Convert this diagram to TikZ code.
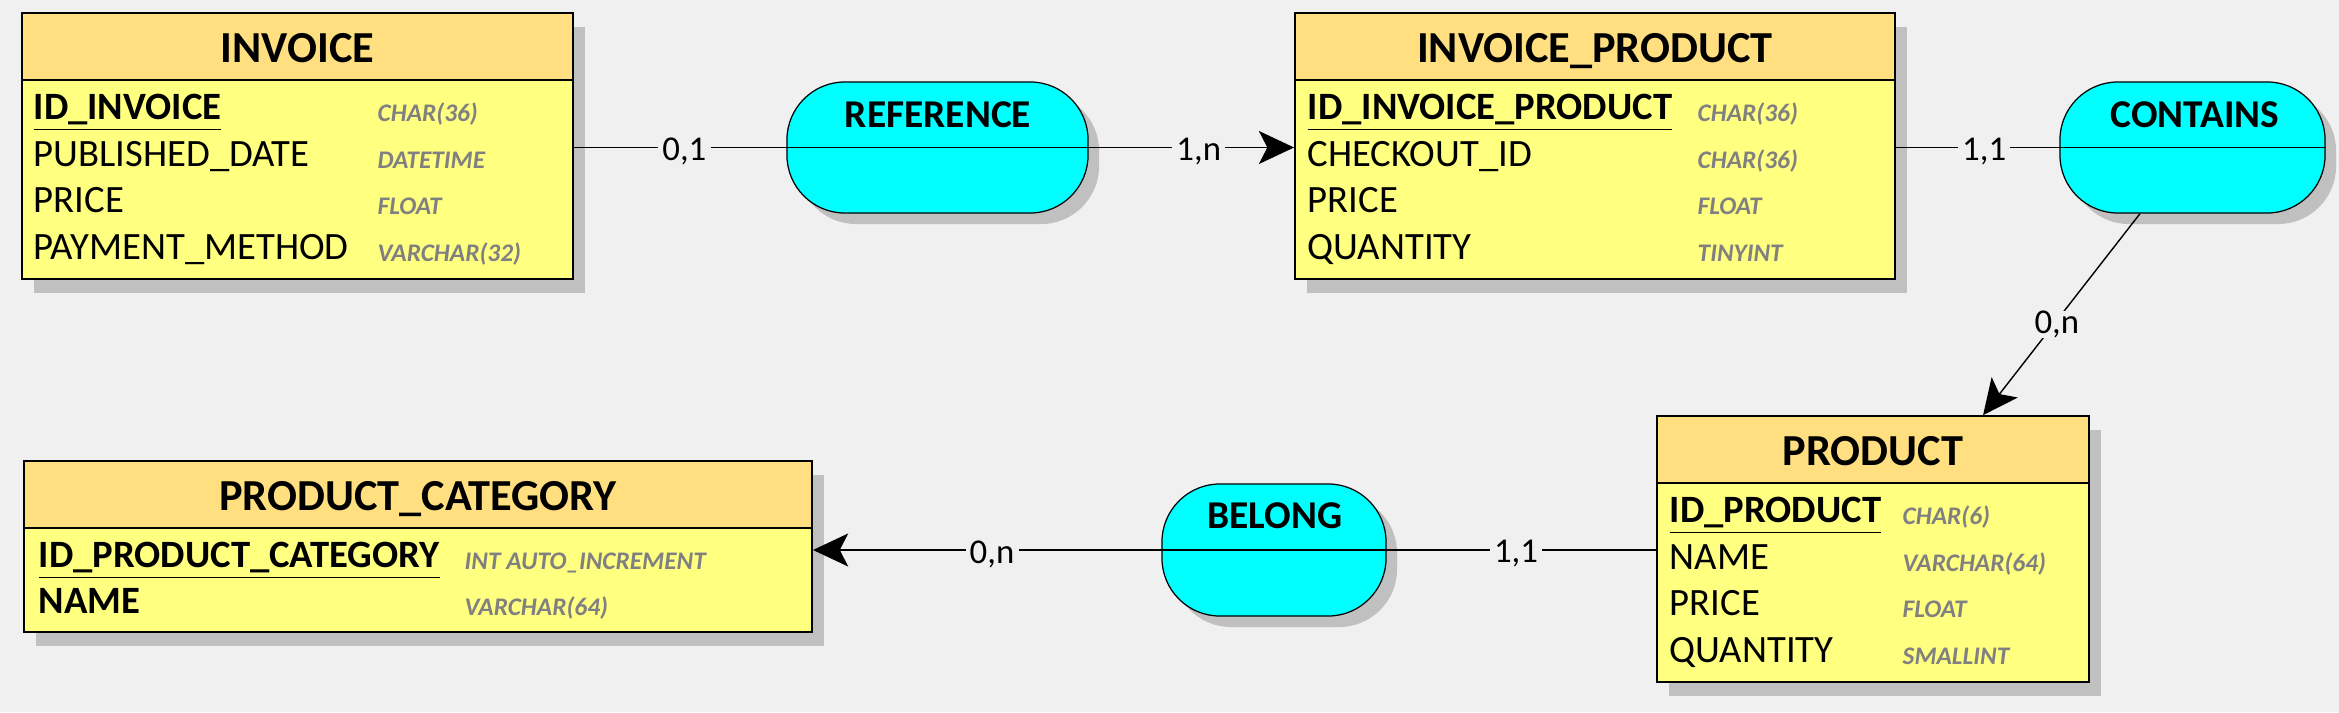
\documentclass[tikz,border=0pt]{standalone}
\usepackage{fontspec}
\setmainfont{Carlito}
\usetikzlibrary{positioning, arrows.meta, shadows}
\definecolor{canvasGray}{HTML}{F0F0F0}
\definecolor{headOrange}{HTML}{FFDF80}
\definecolor{bodyYellow}{HTML}{FFFF80}
\definecolor{assocCyan}{HTML}{00FFFF}
\definecolor{shadowGray}{HTML}{C0C0C0}
\definecolor{typeGray}{HTML}{808080}

\tikzset{
  entitybox/.style={draw, line width=0.45pt, fill=bodyYellow, inner sep=0pt,
    drop shadow={shadow xshift=0.12cm, shadow yshift=-0.14cm, fill=shadowGray, opacity=1}},
  entityhead/.style={draw, line width=0.45pt, fill=headOrange, inner sep=0pt,
    minimum height=0.67cm, text height=0.39cm, text depth=0.07cm,
    font=\fontsize{12.6}{15}\selectfont\bfseries},
  attr/.style={anchor=base west, inner sep=0pt, font=\fontsize{11}{13}\selectfont},
  attrkey/.style={attr, font=\fontsize{11}{13}\selectfont\bfseries},
  attrtype/.style={anchor=base west, inner sep=0pt, text=typeGray,
    font=\fontsize{7.2}{9}\selectfont\bfseries\itshape},
  assoc/.style={draw, line width=0.35pt, fill=assocCyan, rounded corners=0.58cm, inner sep=0pt,
    drop shadow={shadow xshift=0.11cm, shadow yshift=-0.11cm, fill=shadowGray, opacity=1}},
  assoctitle/.style={anchor=base, inner sep=0pt, font=\fontsize{11.2}{13}\selectfont\bfseries},
  conn/.style={line width=0.4pt},
  toentity/.style={-{Stealth[length=10pt, width=9.4pt, inset=2.4pt]}},
  card/.style={fill=canvasGray, inner xsep=1.2pt, inner ysep=0pt, yshift=-0.4mm,
    font=\fontsize{9.9}{12}\selectfont}
}

\begin{document}
\begin{tikzpicture}[x=0.01cm, y=-0.01cm]
  \fill[canvasGray] (0,0) rectangle (2339,712);

  % INVOICE
  \node[entitybox, minimum width=5.51cm, minimum height=2.66cm] (invoice) at (297.5,146) {};
  \node[entityhead, minimum width=5.51cm, anchor=north] (invoiceh) at (invoice.north) {INVOICE};
  \node[attrkey] (inv1) at (33,119) {\underline{ID\_INVOICE}};
  \node[attr] (inv2) at (33,166) {PUBLISHED\_DATE};
  \node[attr] (inv3) at (33,212) {PRICE};
  \node[attr] (inv4) at (33,259) {PAYMENT\_METHOD};
  \node[attrtype] (inv1t) at (377,121) {CHAR(36)};
  \node[attrtype] (inv2t) at (377,168) {DATETIME};
  \node[attrtype] (inv3t) at (377,214) {FLOAT};
  \node[attrtype] (inv4t) at (377,261) {VARCHAR(32)};

  % INVOICE_PRODUCT
  \node[entitybox, minimum width=6cm, minimum height=2.66cm] (invprod) at (1595,146) {};
  \node[entityhead, minimum width=6cm, anchor=north] (invprodh) at (invprod.north) {INVOICE\_PRODUCT};
  \node[attrkey] (ip1) at (1307,119) {\underline{ID\_INVOICE\_PRODUCT}};
  \node[attr] (ip2) at (1307,166) {CHECKOUT\_ID};
  \node[attr] (ip3) at (1307,212) {PRICE};
  \node[attr] (ip4) at (1307,259) {QUANTITY};
  \node[attrtype] (ip1t) at (1697,121) {CHAR(36)};
  \node[attrtype] (ip2t) at (1697,168) {CHAR(36)};
  \node[attrtype] (ip3t) at (1697,214) {FLOAT};
  \node[attrtype] (ip4t) at (1697,261) {TINYINT};

  % PRODUCT
  \node[entitybox, minimum width=4.32cm, minimum height=2.66cm] (product) at (1873,549) {};
  \node[entityhead, minimum width=4.32cm, anchor=north] (producth) at (product.north) {PRODUCT};
  \node[attrkey] (pr1) at (1669,522) {\underline{ID\_PRODUCT}};
  \node[attr] (pr2) at (1669,569) {NAME};
  \node[attr] (pr3) at (1669,615) {PRICE};
  \node[attr] (pr4) at (1669,662) {QUANTITY};
  \node[attrtype] (pr1t) at (1902,524) {CHAR(6)};
  \node[attrtype] (pr2t) at (1902,571) {VARCHAR(64)};
  \node[attrtype] (pr3t) at (1902,617) {FLOAT};
  \node[attrtype] (pr4t) at (1902,664) {SMALLINT};

  % PRODUCT_CATEGORY
  \node[entitybox, minimum width=7.88cm, minimum height=1.71cm] (pcat) at (418,546.5) {};
  \node[entityhead, minimum width=7.88cm, anchor=north] (pcath) at (pcat.north) {PRODUCT\_CATEGORY};
  \node[attrkey] (pc1) at (38,567) {\underline{ID\_PRODUCT\_CATEGORY}};
  \node[attrkey] (pc2) at (38,613) {NAME};
  \node[attrtype] (pc1t) at (464,569) {INT AUTO\_INCREMENT};
  \node[attrtype] (pc2t) at (464,615) {VARCHAR(64)};

  % associations
  \node[assoc, minimum width=3.01cm, minimum height=1.31cm] (reference) at (937.5,147.5) {};
  \draw[conn] (reference.west) -- (reference.east);
  \node[assoctitle] (referencet) at (938,127) {REFERENCE};

  \node[assoc, minimum width=2.65cm, minimum height=1.31cm] (contains) at (2192.5,147.5) {};
  \draw[conn] (contains.west) -- (contains.east);
  \node[assoctitle] (containst) at (2195,127) {CONTAINS};

  \node[assoc, minimum width=2.24cm, minimum height=1.32cm] (belong) at (1274,550) {};
  \draw[conn] (belong.west) -- (belong.east);
  \node[assoctitle] (belongt) at (1275,528.5) {BELONG};

  % links
  \draw[conn] (invoice.east |- reference.west) -- node[card, pos=0.52] {0,1} (reference.west);
  \draw[conn, toentity] (reference.east) -- node[card, pos=0.536] {1,n} (invprod.west |- reference.east);
  \draw[conn] (invprod.east |- contains.west) -- node[card, pos=0.54] {1,1} (contains.west);
  \draw[conn, toentity] ([xshift=-0.525cm]contains.south) -- node[card, pos=0.53] {0,n} ([xshift=1.1cm]product.north);
  \draw[conn] (product.west |- belong.east) -- node[card, pos=0.52] {1,1} (belong.east);
  \draw[conn, toentity] (belong.west) -- node[card, pos=0.486] {0,n} (pcat.east |- belong.west);
\end{tikzpicture}
\end{document}
